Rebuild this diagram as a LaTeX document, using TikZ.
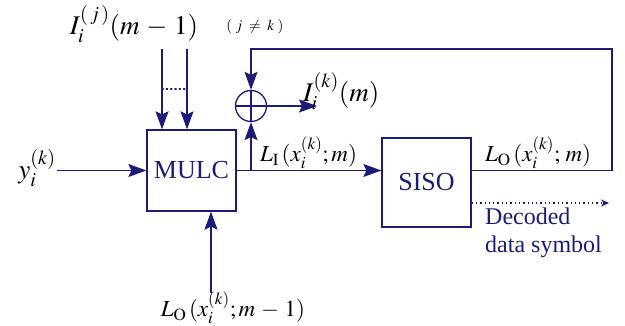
\documentclass[tikz,border=0pt]{standalone}
\usepackage{mathptmx}
\usepackage{fontspec}
\setmainfont{Liberation Serif}
\usetikzlibrary{arrows.meta}
\definecolor{navy}{RGB}{28,28,118}
\tikzset{
  blk/.style={draw=navy, line width=1.3pt, fill=white, minimum width=89pt, minimum height=81pt, inner sep=0pt, text=navy, font=\fontsize{26}{28}\selectfont},
  wire/.style={draw=navy, line width=1.3pt},
  arr/.style={wire, -{Stealth[length=18pt,width=13pt,inset=3pt]}},
  lbl/.style={inner sep=0pt, text=black},
  biglbl/.style={lbl, font=\fontsize{27}{29}\selectfont},
  midlbl/.style={lbl, font=\fontsize{23}{25}\selectfont},
}
\begin{document}
\begin{tikzpicture}[x=1pt,y=-1pt]
\useasboundingbox (0,0) rectangle (625,326);
% blocks
\node[blk] (mulc) at (191.5,170.5) {MULC};
\node[blk, minimum height=89pt] (siso) at (426.5,182.5) {SISO};
\node[circle, draw=navy, line width=1.3pt, minimum size=31pt, inner sep=0pt] (sum) at (251,106) {};
\draw[wire] (sum.north) -- (sum.south) (sum.west) -- (sum.east);
% coordinates
\coordinate (yin) at (57,170.5);
\coordinate (t1) at (162,49);
\coordinate (t2) at (187,49);
\coordinate (bin) at (211,293);
\coordinate (br) at (251,170.5);
\coordinate (sout) at (317,106);
\coordinate (fbr) at (612,170.5);
\coordinate (fbt) at (612,49);
\coordinate (fbl) at (251,49);
\coordinate (dec) at (609,203);
\coordinate (d1) at (162,89);
\coordinate (d2) at (187,89);
% connectors
\draw[arr] (yin) -- (mulc.west);
\draw[arr] (t1) -- (t1 |- mulc.north);
\draw[arr] (t2) -- (t2 |- mulc.north);
\draw[navy, line width=1.3pt, line cap=round, dash pattern=on 1.3pt off 3pt] (d1) -- (d2);
\draw[arr] (bin) -- (bin |- mulc.south);
\draw[arr] (mulc.east) -- (siso.west |- mulc.east);
\draw[arr] (br) -- (sum.south);
\draw[arr] (sum.east) -- (sout);
\draw[arr] (siso.east |- fbr) -- (fbr) -- (fbt) -- (fbl) -- (sum.north);
\draw[navy, line width=1.3pt, dash pattern=on 1.3pt off 3pt, -{Stealth[length=8pt,width=7pt]}] (siso.east |- dec) -- (dec);
% labels
\node[biglbl] (lij) at (134,24) {$I_i^{(\,j\,)}(m\,-\,1)$};
\node[lbl, font=\fontsize{15}{17}\selectfont] (ljk) at (255,27) {$(\;j\;\neq\;k\;)$};
\node[biglbl, anchor=west] (lik) at (303,91) {$I_i^{(k)}(m)$};
\node[midlbl, anchor=west] (lli) at (260,153) {$L_{\mathrm{I}}\,(x_i^{(k)};m)$};
\node[midlbl, anchor=west] (llo) at (485,153) {$L_{\mathrm{O}}\,(x_i^{(k)};\,m)$};
\node[midlbl] (llb) at (233,308) {$L_{\mathrm{O}}\,(x_i^{(k)};m\,-\,1)$};
\node[biglbl] (ly) at (37,168) {$y_i^{(k)}$};
\node[lbl, text=navy, font=\fontsize{24}{28}\selectfont, anchor=north west, align=left] (ldec) at (485,208) {Decoded\\data symbol};
\end{tikzpicture}
\end{document}
